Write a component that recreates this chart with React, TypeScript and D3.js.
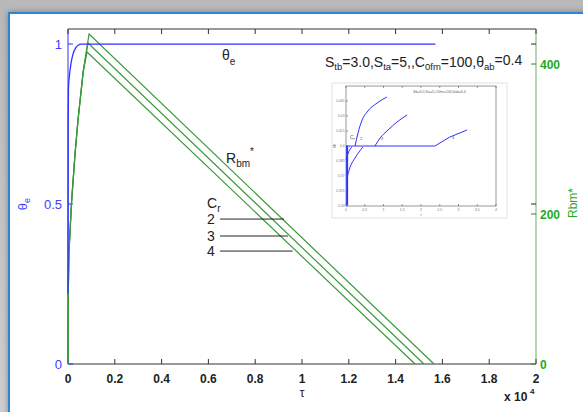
import React from "react";
import * as d3 from "d3";

// ---------- data ----------
const xTicks = [0, 2000, 4000, 6000, 8000, 10000, 12000, 14000, 16000, 18000, 20000];
const xTickLabels = ["0", "0.2", "0.4", "0.6", "0.8", "1", "1.2", "1.4", "1.6", "1.8", "2"];
const leftTicks = [0, 0.5, 1];
const leftTickLabels = ["0", "0.5", "1"];
const rightTicks = [0, 200, 400];
const rightTickLabels = ["0", "200", "400"];

// theta_e curve
const thetaTau = [0, 3, 8, 20, 60, 130, 220, 330, 450, 550, 15700];
const thetaVal = [0.22, 0.5, 0.75, 0.86, 0.9, 0.94, 0.97, 0.988, 0.997, 1.0, 1.0];

// Rbm* curves (Cr = 2, 3, 4)
const riseTau = [0, 15, 40, 150, 300, 430, 650];
const riseVal = [0, 100, 148, 215, 280, 326, 390];
const peakTau = [900, 855, 812];
const peakVal = [440, 428, 416];
const endTau = [15640, 15210, 14830];
const crLabels = ["2", "3", "4"];

// Cr pointer annotation (data units: tau, theta_e)
const crLineStartTau = [6500, 6500, 6500];
const crLineEndTau = [9230, 9400, 9600];
const crLineTheta = [0.453, 0.4, 0.353];

// inset data
const insetXTicks = [0, 0.5, 1, 1.5, 2, 2.5, 3, 3.5, 4];
const insetYTicks = [0.34, 0.355, 0.37, 0.385, 0.4, 0.415, 0.43, 0.445];
const insetFlatX = [0, 2.37, 2.77, 3.23];
const insetFlatY = [0.4, 0.4, 0.409, 0.416];
const inset1X = [0.24, 0.32, 0.43, 0.56, 0.83, 1.09];
const inset1Y = [0.4, 0.413, 0.426, 0.434, 0.443, 0.449];
const inset2X = [0.77, 0.91, 1.12, 1.36, 1.63];
const inset2Y = [0.4, 0.408, 0.416, 0.424, 0.431];
const inset3X = [0.03, 0.11, 0.24, 0.45];
const inset3Y = [0.369, 0.379, 0.388, 0.399];
const inset4X = [0, 0.07, 0.16];
const inset4Y = [0.386, 0.394, 0.399];
const inset5X = [0.03, 0.03];
const inset5Y = [0.341, 0.4];

const BLUE = "#3030ff";
const GREEN_LINE = "#3a9a3a";
const GREEN_TXT = "#1faa1f";
const FONT = "'Liberation Sans', Arial, sans-serif";

type P = [number, number];
const zip = (a: number[], b: number[]): P[] => a.map((v, i) => [v, b[i]]);

export default function App() {
  const W = 583, H = 412;
  const L = 68, R = 536, T = 29, B = 364;
  const x = d3.scaleLinear().domain([0, 20000]).range([L, R]);
  const yL = d3.scaleLinear().domain([0, 1.047]).range([B, T]);
  const yR = d3.scaleLinear().domain([0, 446.7]).range([B, T]);

  const thetaLine = d3.line<P>().x(d => x(d[0])).y(d => yL(d[1])).curve(d3.curveMonotoneX);
  const rLine = d3.line<P>().x(d => x(d[0])).y(d => yR(d[1]));

  const rSeries: P[][] = peakTau.map((pt, i) => {
    const pts: P[] = zip(riseTau, riseVal).filter(p => p[0] < pt);
    pts.push([pt, peakVal[i]]);
    pts.push([endTau[i], 0]);
    return pts;
  });

  // inset scales
  const ix = d3.scaleLinear().domain([0, 4]).range([346, 496]);
  const iy = d3.scaleLinear().domain([0.34, 0.46]).range([206, 86]);
  const iLine = d3.line<P>().x(d => ix(d[0])).y(d => iy(d[1])).curve(d3.curveMonotoneX);
  const iLin = d3.line<P>().x(d => ix(d[0])).y(d => iy(d[1]));

  return (
    <svg width={W} height={H} style={{ position: "absolute", left: 0, top: 0 }} fontFamily={FONT}>
      <defs>
        <linearGradient id="bg" x1="0" y1="0" x2="0" y2="1">
          <stop offset="0" stopColor="#b9b9b9" />
          <stop offset="1" stopColor="#cfcfcf" />
        </linearGradient>
        <filter id="sh" x="-5%" y="-5%" width="110%" height="110%">
          <feDropShadow dx="0" dy="0" stdDeviation="3" floodColor="#555" floodOpacity="0.6" />
        </filter>
      </defs>
      <rect x={0} y={0} width={W} height={H} fill="url(#bg)" />
      <rect x={9} y={13} width={600} height={420} fill="#ffffff" stroke="#2a86d6" strokeWidth={2} filter="url(#sh)" />

      {/* plot box */}
      <line x1={L} x2={R} y1={T} y2={T} stroke="#333" strokeWidth={1} />
      <line x1={L} x2={R} y1={B} y2={B} stroke="#333" strokeWidth={1} />
      <line x1={L} x2={L} y1={T} y2={B} stroke={BLUE} strokeWidth={1} />
      <line x1={R} x2={R} y1={T} y2={B} stroke="#7fbf7f" strokeWidth={1.2} />

      {/* x ticks */}
      {xTicks.map((t, i) => (
        <g key={"xt" + i}>
          <line x1={x(t)} x2={x(t)} y1={B} y2={B - 5} stroke="#333" />
          <line x1={x(t)} x2={x(t)} y1={T} y2={T + 5} stroke="#333" />
          <text x={x(t)} y={383} textAnchor="middle" fontSize={12} fontWeight="bold" fill="#222">
            {xTickLabels[i]}
          </text>
        </g>
      ))}
      <text x={302} y={397} textAnchor="middle" fontSize={12} fill="#222">τ</text>
      <text x={504} y={401} fontSize={12} fontWeight="bold" fill="#222">x 10</text>
      <text x={530} y={394} fontSize={8} fontWeight="bold" fill="#222">4</text>

      {/* left ticks */}
      {leftTicks.map((t, i) => (
        <g key={"lt" + i}>
          <line x1={L} x2={L + 5} y1={yL(t)} y2={yL(t)} stroke={BLUE} />
          {t > 0 && <line x1={R} x2={R - 5} y1={yL(t)} y2={yL(t)} stroke="#22226a" />}
          <text x={62} y={yL(t) + 4.5} textAnchor="end" fontSize={13} fill="#4040ff">
            {leftTickLabels[i]}
          </text>
        </g>
      ))}
      {/* right ticks */}
      {rightTicks.map((t, i) => (
        <g key={"rt" + i}>
          <line x1={R} x2={R - 5} y1={yR(t)} y2={yR(t)} stroke="#3a7a3a" />
          <text x={540} y={yR(t) + 4.5} fontSize={12} fontWeight="bold" fill={GREEN_TXT}>
            {rightTickLabels[i]}
          </text>
        </g>
      ))}

      {/* axis labels */}
      <text transform="translate(27,204) rotate(-90)" textAnchor="middle" fontSize={13} fill="#4040ff">
        θ<tspan fontSize={9} dy={3}>e</tspan>
      </text>
      <text transform="translate(577,203) rotate(-90)" textAnchor="middle" fontSize={12} fill={GREEN_TXT}>
        Rbm*
      </text>

      {/* series */}
      {rSeries.map((s, i) => (
        <path key={"r" + i} d={rLine(s) || ""} fill="none" stroke={GREEN_LINE} strokeWidth={1.2} />
      ))}
      <path d={thetaLine(zip(thetaTau, thetaVal)) || ""} fill="none" stroke={BLUE} strokeWidth={1.3} />

      {/* annotations */}
      <text x={222} y={60} fontSize={14} fill="#222">
        θ<tspan fontSize={10} dy={5}>e</tspan>
      </text>
      <text x={325} y={67} fontSize={14} fill="#222">
        S<tspan fontSize={9.5} dy={3}>tb</tspan>
        <tspan dy={-3}>=3.0,S</tspan>
        <tspan fontSize={9.5} dy={3}>ta</tspan>
        <tspan dy={-3}>=5,,C</tspan>
        <tspan fontSize={9.5} dy={3}>0fm</tspan>
        <tspan dy={-3}>=100,θ</tspan>
        <tspan fontSize={9.5} dy={3}>ab</tspan>
        <tspan dy={-5}>=0.4</tspan>
      </text>
      <text x={226} y={163} fontSize={14} fill="#222">
        R<tspan fontSize={10} dy={4}>bm</tspan>
        <tspan fontSize={10} dy={-12}>*</tspan>
      </text>
      <text x={207} y={208} fontSize={14} fill="#222">
        C<tspan fontSize={10} dy={4}>r</tspan>
      </text>
      {crLabels.map((c, i) => (
        <g key={"cr" + i}>
          <text x={207} y={yL(crLineTheta[i]) + 4.5} fontSize={14} fill="#222">{c}</text>
          <line
            x1={x(crLineStartTau[i])}
            x2={x(crLineEndTau[i])}
            y1={yL(crLineTheta[i])}
            y2={yL(crLineTheta[i])}
            stroke="#222"
            strokeWidth={1}
          />
        </g>
      ))}

      {/* inset */}
      <rect x={332} y={83} width={175} height={135} fill="#fff" stroke="#e2e2e2" />
      <rect x={346} y={86} width={150} height={120} fill="none" stroke="#555" strokeWidth={0.6} />
      {insetXTicks.map((t, i) => (
        <g key={"ixt" + i}>
          <line x1={ix(t)} x2={ix(t)} y1={206} y2={204} stroke="#555" strokeWidth={0.6} />
          <line x1={ix(t)} x2={ix(t)} y1={86} y2={88} stroke="#555" strokeWidth={0.6} />
          <text x={ix(t)} y={211} textAnchor="middle" fontSize={3.5} fill="#777">{t}</text>
        </g>
      ))}
      {insetYTicks.map((t, i) => (
        <g key={"iyt" + i}>
          <line x1={346} x2={348} y1={iy(t)} y2={iy(t)} stroke="#555" strokeWidth={0.6} />
          <text x={344.5} y={iy(t) + 1.2} textAnchor="end" fontSize={3.3} fill="#777">{t}</text>
        </g>
      ))}
      <text x={421} y={216} textAnchor="middle" fontSize={4} fill="#777">τ</text>
      <text x={333} y={148} fontSize={5} fill="#555">θ</text>
      <text x={413} y={93} fontSize={3.6} fill="#666">Sb=3.0,Sa=5,C0fm=100,θab=0.4</text>
      <path d={iLin(zip(insetFlatX, insetFlatY)) || ""} fill="none" stroke={BLUE} strokeWidth={1} />
      <path d={iLine(zip(inset1X, inset1Y)) || ""} fill="none" stroke={BLUE} strokeWidth={1} />
      <path d={iLine(zip(inset2X, inset2Y)) || ""} fill="none" stroke={BLUE} strokeWidth={1} />
      <path d={iLine(zip(inset3X, inset3Y)) || ""} fill="none" stroke={BLUE} strokeWidth={1} />
      <path d={iLine(zip(inset4X, inset4Y)) || ""} fill="none" stroke={BLUE} strokeWidth={1} />
      <path d={iLin(zip(inset5X, inset5Y)) || ""} fill="none" stroke={BLUE} strokeWidth={2} />
      <text x={350} y={139} fontSize={5} fill="#555">C<tspan fontSize={3.5} dy={1}>r</tspan></text>
      <text x={360} y={140} fontSize={4} fill="#555">2</text>
      <text x={381} y={140} fontSize={4} fill="#555">3</text>
      <text x={452} y={139} fontSize={4} fill="#555">4</text>
    </svg>
  );
}
